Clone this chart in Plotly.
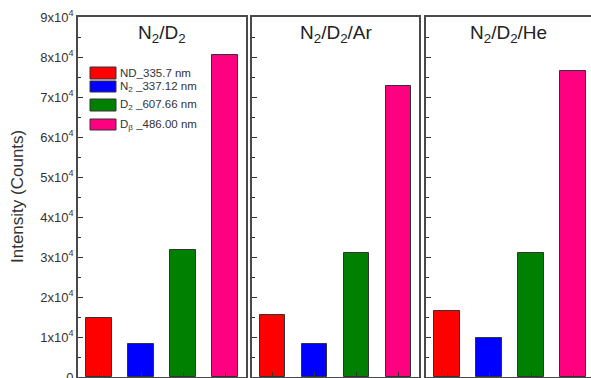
import plotly.graph_objects as go

# ---- data ----
panel_titles = ["N<sub>2</sub>/D<sub>2</sub>", "N<sub>2</sub>/D<sub>2</sub>/Ar", "N<sub>2</sub>/D<sub>2</sub>/He"]
species = ["ND_335.7 nm", "N<sub>2</sub> _337.12 nm", "D<sub>2</sub> _607.66 nm", "D<sub>β</sub> _486.00 nm"]
colors = ["#FF0000", "#0000FF", "#008000", "#FF0080"]
nd_335 = [14800, 15600, 16500]
n2_337 = [8200, 8300, 9800]
d2_607 = [31800, 31000, 31000]
db_486 = [80500, 72800, 76500]
positions = [1, 2, 3, 4]
ytick_vals = [0, 10000, 20000, 30000, 40000, 50000, 60000, 70000, 80000, 90000]
ytick_text = ["0"] + [f"{i}x10<sup>4</sup>" for i in range(1, 10)]

W, H = 591, 378
L, T, B = 78, 17, 1
PW, PH = W - L, H - T - B


def px(xp):
    return (xp - L) / PW


def py(yp):
    return (H - B - yp) / PH


FONT = "Liberation Sans, Arial, sans-serif"
LINE = "#4a4a4a"

fig = go.Figure()
domains = [[0, px(246)], [px(252), px(419)], [px(426), 1.0]]
xranges = [[0.5, 4.5], [0.5, 4.5], [0.5, 0.5 + (W - 426) / 42.0]]

for i in range(3):
    vals = [nd_335[i], n2_337[i], d2_607[i], db_486[i]]
    sfx = "" if i == 0 else str(i + 1)
    fig.add_trace(go.Bar(
        x=positions, y=vals, width=0.6,
        marker=dict(color=colors, line=dict(color="#333333", width=1)),
        xaxis="x" + sfx, yaxis="y" + sfx, showlegend=False,
    ))
    xa = dict(domain=domains[i], range=xranges[i], showgrid=False, zeroline=False,
              showline=True, linecolor=LINE, linewidth=1.6, mirror=True,
              tickvals=positions, ticks="inside", ticklen=5, tickwidth=1.2,
              tickcolor="#333", showticklabels=False, fixedrange=True,
              automargin=False)
    ya = dict(range=[0, 90000], showgrid=False, zeroline=False,
              showline=True, linecolor=LINE, linewidth=1.6,
              mirror=(i < 2), ticks="inside", ticklen=5, tickwidth=1.2,
              tickcolor="#333", tickvals=ytick_vals, ticktext=ytick_text,
              showticklabels=(i == 0), ticklabeloverflow="allow",
              tickfont=dict(family=FONT, size=13, color="#333"),
              minor=dict(ticks="inside", ticklen=3, tickwidth=1.2, tickcolor="#333", dtick=5000),
              anchor="x" + sfx, fixedrange=True, automargin=False)
    if i > 0:
        xa["anchor"] = "y" + sfx
    fig.update_layout(**{"xaxis" + sfx: xa, "yaxis" + sfx: ya})
    fig.add_annotation(text=panel_titles[i], xref=("x" + sfx + " domain"), yref="paper",
                       x=0.5, y=py(34), xanchor="center", yanchor="middle", showarrow=False,
                       font=dict(family=FONT, size=19, color="#222"))

# y-axis title
fig.add_annotation(text="Intensity (Counts)", xref="paper", yref="paper",
                   x=px(17), y=py(197), textangle=-90, showarrow=False,
                   xanchor="center", yanchor="middle",
                   font=dict(family=FONT, size=17, color="#333"))

# legend (manual)
legend_rows = [(67, 79, 73), (81, 92, 86.5), (99, 111, 105), (119, 130, 124.5)]
for (y0, y1, yc), lab, col in zip(legend_rows, species, colors):
    fig.add_shape(type="rect", xref="paper", yref="paper",
                  x0=px(90), x1=px(116), y0=py(y1), y1=py(y0),
                  fillcolor=col, line=dict(color="#333", width=1))
    fig.add_annotation(text=lab, xref="paper", yref="paper", x=px(118), y=py(yc),
                       xanchor="left", yanchor="middle", showarrow=False,
                       font=dict(family=FONT, size=11.5, color="#333"))

fig.update_layout(width=W, height=H, margin=dict(l=L, r=0, t=T, b=B, autoexpand=False),
                  paper_bgcolor="white", plot_bgcolor="white", showlegend=False,
                  bargap=0)
fig.write_html("out.html")
